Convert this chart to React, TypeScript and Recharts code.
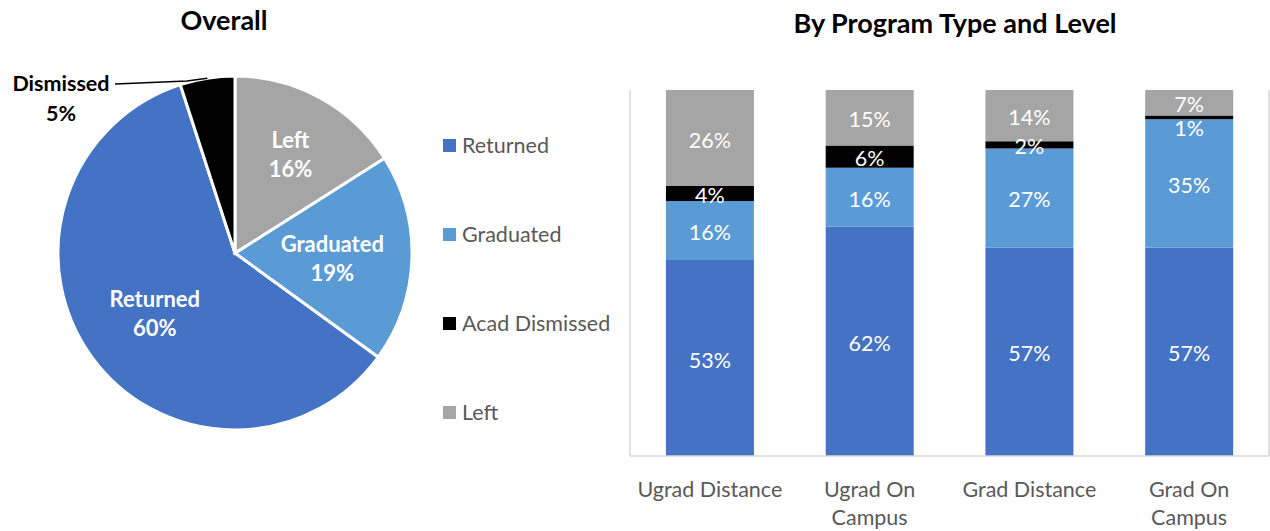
import { PieChart, Pie, Cell, BarChart, Bar, XAxis, YAxis, CartesianGrid, LabelList } from 'recharts';

const FONT = 'Lato, "Noto Sans", sans-serif';

const legendNames = ['Returned', 'Graduated', 'Acad Dismissed', 'Left'];
const legendColors = ['#4472C4', '#5B9BD5', '#000000', '#A5A5A5'];

// overall pie, in drawing order (counter-clockwise from the Returned slice)
const pieNames = ['Returned', 'Graduated', 'Left', 'Dismissed'];
const pieValues = [60, 19, 16, 5];
const pieColors = ['#4472C4', '#5B9BD5', '#A5A5A5', '#000000'];
const pieLabelRadius = [0.56, 0.55, 0.65, 1];

const categories = ['Ugrad Distance', 'Ugrad On Campus', 'Grad Distance', 'Grad On Campus'];
const tickLines = [['Ugrad Distance'], ['Ugrad On', 'Campus'], ['Grad Distance'], ['Grad On', 'Campus']];
const returned = [53, 62, 57, 57];
const graduated = [16, 16, 27, 35];
const dismissed = [4, 6, 2, 1];
const left = [26, 15, 14, 7];
// excel nudges the thinnest label down so it does not collide
const dismissedLabelShift = [0, 0, 0, 9];

const pieData = pieNames.map((name, i) => ({ name, value: pieValues[i] }));
const barData = categories.map((name, i) => ({
  name,
  returned: returned[i],
  graduated: graduated[i],
  dismissed: dismissed[i],
  left: left[i],
}));

const RAD = Math.PI / 180;

const PieLabel = (props: any) => {
  const { cx, cy, midAngle, outerRadius, index, name, value } = props;
  if (index === 3) {
    const ex = cx + outerRadius * Math.cos(-midAngle * RAD);
    const ey = cy + outerRadius * Math.sin(-midAngle * RAD);
    return (
      <g>
        <polyline points={`${cx - 120},${cy - 169} ${cx - 48},${cy - 172} ${ex},${ey}`} stroke="#000" strokeWidth={1.5} fill="none" />
        <text x={cx - 174} y={cy - 170} textAnchor="middle" dominantBaseline="central" fontFamily={FONT} fontWeight={700} fontSize={21.5} fill="#000">
          {name}
        </text>
        <text x={cx - 174} y={cy - 140} textAnchor="middle" dominantBaseline="central" fontFamily={FONT} fontWeight={700} fontSize={21.5} fill="#000">
          {value}%
        </text>
      </g>
    );
  }
  const r = outerRadius * pieLabelRadius[index];
  const x = cx + r * Math.cos(-midAngle * RAD);
  const y = cy + r * Math.sin(-midAngle * RAD);
  return (
    <g>
      <text x={x} y={y - 13} textAnchor="middle" dominantBaseline="central" fontFamily={FONT} fontWeight={700} fontSize={22} fill="#fff">
        {name}
      </text>
      <text x={x} y={y + 16} textAnchor="middle" dominantBaseline="central" fontFamily={FONT} fontWeight={700} fontSize={22} fill="#fff">
        {value}%
      </text>
    </g>
  );
};

const CategoryTick = (props: any) => {
  const { x, y, index } = props;
  const lines = tickLines[index] || [];
  return (
    <g>
      {lines.map((line, i) => (
        <text key={line} x={x} y={y + 25 + i * 28} textAnchor="middle" dominantBaseline="central" fontFamily={FONT} fontSize={21.5} fill="#595959">
          {line}
        </text>
      ))}
    </g>
  );
};

const makeLabel = (shift?: number[]) => (props: any) => {
  const { x, y, width, height, value, index } = props;
  const dy = shift ? shift[index] || 0 : 0;
  return (
    <text x={x + width / 2} y={y + height / 2 + 1.5 + dy} textAnchor="middle" dominantBaseline="central" fontFamily={FONT} fontSize={21.5} fill="#fff">
      {value}%
    </text>
  );
};

export default function App() {
  return (
    <div style={{ position: 'absolute', left: 0, top: 0, width: 1270, height: 531, background: '#fff', fontFamily: FONT }}>
      <div style={{ position: 'absolute', left: 0, top: 3, width: 448, textAlign: 'center', fontWeight: 700, fontSize: 27, color: '#000' }}>
        Overall
      </div>
      <div style={{ position: 'absolute', left: 640, top: 6, width: 630, textAlign: 'center', fontWeight: 700, fontSize: 27, color: '#000' }}>
        By Program Type and Level
      </div>

      <div style={{ position: 'absolute', left: 0, top: 0 }}>
        <PieChart width={430} height={531} margin={{ top: 0, right: 0, bottom: 0, left: 0 }}>
          <Pie
            data={pieData}
            dataKey="value"
            nameKey="name"
            cx={235}
            cy={253}
            outerRadius={177}
            startAngle={108}
            endAngle={468}
            stroke="#fff"
            strokeWidth={3}
            label={PieLabel}
            labelLine={false}
            isAnimationActive={false}
          >
            {pieData.map((entry, index) => (
              <Cell key={entry.name} fill={pieColors[index]} />
            ))}
          </Pie>
        </PieChart>
      </div>

      {legendNames.map((name, i) => (
        <div key={name} style={{ position: 'absolute', left: 443, top: 132 + i * 89, height: 26, display: 'flex', alignItems: 'center', fontSize: 21.5, color: '#595959' }}>
          <span style={{ width: 13, height: 13, background: legendColors[i], marginRight: 6 }} />
          {name}
        </div>
      ))}

      <div style={{ position: 'absolute', left: 600, top: 0 }}>
        <BarChart width={670} height={531} data={barData} stackOffset="expand" barCategoryGap="22.5%" margin={{ top: 90, right: 1, bottom: 0, left: 30 }}>
          <XAxis xAxisId="grid" type="number" domain={[0, 4]} ticks={[0, 1, 2, 3, 4]} hide />
          <CartesianGrid xAxisId="grid" horizontal={false} stroke="#D9D9D9" strokeWidth={1.5} />
          <XAxis dataKey="name" height={75} axisLine={{ stroke: '#D9D9D9', strokeWidth: 1.5 }} tickLine={false} tick={<CategoryTick />} interval={0} />
          <YAxis hide domain={[0, 1]} />
          <Bar dataKey="returned" stackId="a" fill="#4472C4" isAnimationActive={false}>
            <LabelList dataKey="returned" content={makeLabel()} />
          </Bar>
          <Bar dataKey="graduated" stackId="a" fill="#5B9BD5" isAnimationActive={false}>
            <LabelList dataKey="graduated" content={makeLabel()} />
          </Bar>
          <Bar dataKey="dismissed" stackId="a" fill="#000000" isAnimationActive={false}>
            <LabelList dataKey="dismissed" content={makeLabel(dismissedLabelShift)} />
          </Bar>
          <Bar dataKey="left" stackId="a" fill="#A5A5A5" isAnimationActive={false}>
            <LabelList dataKey="left" content={makeLabel()} />
          </Bar>
        </BarChart>
      </div>
    </div>
  );
}
